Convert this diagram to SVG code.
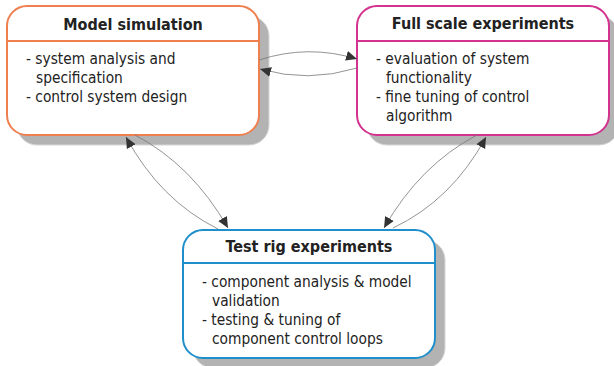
<svg xmlns="http://www.w3.org/2000/svg" width="614" height="366" viewBox="0 0 614 366">
  <style>
    .shadow { fill: #b3b3b3; stroke: #d6d6d6; stroke-width: 1; }
    .box { fill: #ffffff; stroke-width: 2; }
    .title { font-family: "DejaVu Sans Condensed", "DejaVu Sans", Verdana, sans-serif; font-stretch: condensed; font-weight: bold; font-size: 16px; fill: #222; text-anchor: middle; }
    .body { font-family: "DejaVu Sans Condensed", "DejaVu Sans", Verdana, sans-serif; font-stretch: condensed; font-size: 15.3px; fill: #222; }
    .conn { fill: none; stroke: #777; stroke-width: 0.8; }
  </style>
  <defs>
    <marker id="arrow" viewBox="0 0 10 10" refX="10" refY="5" markerWidth="11" markerHeight="11" markerUnits="userSpaceOnUse" orient="auto">
      <path d="M0,0.5 L10,5 L0,9.5 Z" fill="#333"/>
    </marker>
  </defs>

  <g id="model-simulation">
    <rect class="shadow" x="17" y="16" width="252" height="129" rx="20"/>
    <rect class="box" x="7" y="6" width="252" height="129" rx="20" stroke="#ef7f4f"/>
    <line x1="7" y1="41" x2="259" y2="41" stroke="#ef7f4f" stroke-width="2"/>
    <text class="title" x="133" y="30">Model simulation</text>
    <text class="body" x="26" y="64">- system analysis and</text>
    <text class="body" x="36" y="83">specification</text>
    <text class="body" x="26" y="102">- control system design</text>
  </g>

  <g id="full-scale-experiments">
    <rect class="shadow" x="367" y="16" width="252" height="129" rx="20"/>
    <rect class="box" x="357" y="6" width="252" height="129" rx="20" stroke="#d4328f"/>
    <line x1="357" y1="41" x2="609" y2="41" stroke="#d4328f" stroke-width="2"/>
    <text class="title" x="483" y="29">Full scale experiments</text>
    <text class="body" x="376" y="64">- evaluation of system</text>
    <text class="body" x="386" y="83">functionality</text>
    <text class="body" x="376" y="102">- fine tuning of control</text>
    <text class="body" x="386" y="121">algorithm</text>
  </g>

  <g id="test-rig-experiments">
    <rect class="shadow" x="193" y="240" width="252" height="128" rx="20"/>
    <rect class="box" x="183" y="230" width="252" height="128" rx="20" stroke="#1f8fcb"/>
    <line x1="183" y1="263" x2="435" y2="263" stroke="#1f8fcb" stroke-width="2"/>
    <text class="title" x="309" y="252">Test rig experiments</text>
    <text class="body" x="202" y="287">- component analysis &amp; model</text>
    <text class="body" x="212" y="306">validation</text>
    <text class="body" x="202" y="325">- testing &amp; tuning of</text>
    <text class="body" x="212" y="344">component control loops</text>
  </g>

  <g id="connectors">
    <!-- model simulation <-> full scale experiments -->
    <path class="conn" d="M259,60 Q308,44 357,59" marker-end="url(#arrow)"/>
    <path class="conn" d="M357,68 Q308,83 260,69" marker-end="url(#arrow)"/>
    <!-- model simulation <-> test rig experiments -->
    <path class="conn" d="M135,135 Q192,165 228,228" marker-end="url(#arrow)"/>
    <path class="conn" d="M218,229 Q160,200 126,137" marker-end="url(#arrow)"/>
    <!-- full scale experiments <-> test rig experiments -->
    <path class="conn" d="M477,135 Q420,165 384,228" marker-end="url(#arrow)"/>
    <path class="conn" d="M393,228 Q452,200 486,137" marker-end="url(#arrow)"/>
  </g>
</svg>
